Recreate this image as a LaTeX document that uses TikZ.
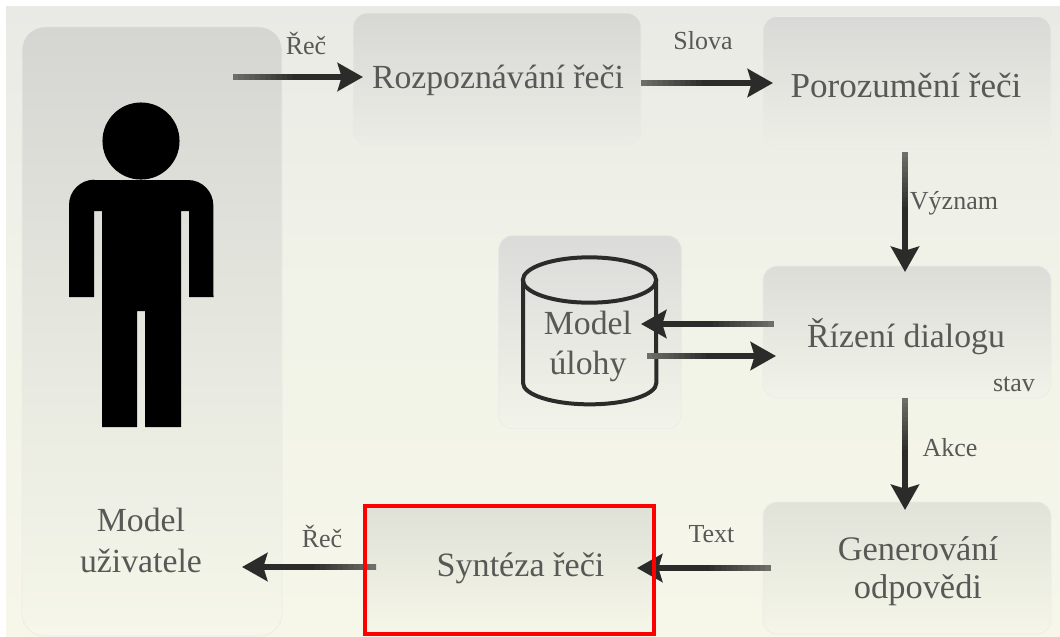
\documentclass[tikz,border=0pt]{standalone}
\usepackage{fontspec}
\setmainfont{Liberation Serif}
\usetikzlibrary{arrows.meta,calc}
\definecolor{txt}{HTML}{585856}
\definecolor{headc}{HTML}{2B2B2A}
\definecolor{tailc}{HTML}{6E6E68}
\definecolor{bgT}{HTML}{E9EAE5}
\definecolor{bgM}{HTML}{F2F3E8}
\definecolor{bgB}{HTML}{F6F7E9}
\definecolor{userT}{HTML}{D5D6D2}
\definecolor{userM}{HTML}{E5E6DF}
\definecolor{userB}{HTML}{F6F7EA}
\definecolor{asrT}{HTML}{D7D8D4}
\definecolor{asrB}{HTML}{EBECE5}
\definecolor{nluT}{HTML}{D9DAD6}
\definecolor{nluB}{HTML}{EDEEE6}
\definecolor{dmT}{HTML}{DCDDD8}
\definecolor{dmB}{HTML}{F1F2E8}
\definecolor{genT}{HTML}{E1E2D8}
\definecolor{genB}{HTML}{F5F6E9}
\definecolor{taskT}{HTML}{DBDCD9}
\definecolor{taskB}{HTML}{F2F3E9}
\definecolor{ttsT}{HTML}{DFE0D6}
\definecolor{ttsB}{HTML}{F6F7E9}
\newcommand{\connector}[2]{%
  \draw[conn] (#1) -- (#2);
  \foreach \i in {0,...,11}{%
    \pgfmathsetmacro{\pa}{\i/24}%
    \pgfmathsetmacro{\pb}{(\i+1.4)/24}%
    \pgfmathtruncatemacro{\mixv}{100-\i*100/11}%
    \draw[line width=4.4pt,color=tailc!\mixv!headc] ($(#1)!\pa!(#2)$) -- ($(#1)!\pb!(#2)$);
  }%
}
\tikzset{
  x=0.75pt,y=-0.75pt,
  box/.style={draw=black!8,line width=0.5pt,rounded corners=10.5pt,minimum width=216pt,minimum height=99pt,inner sep=0pt},
  big/.style={text=txt,font=\fontsize{25.3}{31}\selectfont,align=center,inner sep=0pt},
  lab/.style={text=txt,font=\fontsize{19.5}{22}\selectfont,inner sep=0pt},
  conn/.style={line width=4.4pt,color=headc,-{Stealth[length=19pt,width=21pt,inset=3pt]}},
  dbline/.style={draw=headc,line width=3pt},
}
\begin{document}
\begin{tikzpicture}
\useasboundingbox (0,0) rectangle (1060,636);
\fill[white] (0,0) rectangle (1060,636);
\shade[top color=bgT,bottom color=bgB,middle color=bgM] (6,6) rectangle (1060,636);

% boxes
\node[box,minimum width=195pt,minimum height=457pt,rounded corners=17pt,top color=userT,middle color=userM,bottom color=userB] (user) at (152,331.5) {};
\node[box,top color=asrT,bottom color=asrB] (asr) at (497,79) {};
\node[box,top color=nluT,bottom color=nluB] (nlu) at (907,82.5) {};
\node[box,top color=dmT,bottom color=dmB] (dm) at (907,332) {};
\node[box,top color=genT,bottom color=genB] (gen) at (907,568) {};
\node[box,minimum width=137pt,minimum height=145pt,top color=taskT,bottom color=taskB] (task) at (590,332) {};
\node[draw=none,minimum width=216pt,minimum height=98pt,inner sep=0pt,top color=ttsT,bottom color=ttsB] (tts) at (509.5,570) {};

% box texts
\node[big] (asrtxt) at (498,80) {Rozpoznávání řeči};
\node[big,font=\fontsize{26.3}{31}\selectfont] (nlutxt) at (906,85) {Porozumění řeči};
\node[big] (dmtxt) at (906,337) {Řízení dialogu};
\node[big,font=\fontsize{25.8}{28.5}\selectfont] (gentxt) at (918,571) {Generování\\odpovědi};
\node[big,font=\fontsize{25.6}{31}\selectfont] (ttstxt) at (520.5,568) {Syntéza řeči};

% person
\fill[black] (141,141) circle (28.9pt);
\fill[black] (94,180) -- (188,180) arc[start angle=90,end angle=0,radius=19pt] -- (213.5,297) -- (189,297) -- (189,211) -- (181,211) -- (181,427) -- (145,427) -- (145,311) -- (137,311) -- (137,427) -- (102,427) -- (102,211) -- (94,211) -- (94,297) -- (69,297) -- (69,205) arc[start angle=180,end angle=90,radius=19pt] -- cycle;
\node[big] (usertxt) at (141,540.5) {Model\\uživatele};

% database
\draw[dbline] (523,280) -- (523,383) arc[start angle=180,end angle=360,x radius=50pt,y radius=16pt] -- (656,280);
\draw[dbline] (589.5,280) ellipse [x radius=50pt,y radius=17pt];
\node[big,font=\fontsize{25.3}{30}\selectfont] (tasktxt) at (588,346) {Model\\úlohy};

% connector ends
\coordinate (c1a) at (233,77); \coordinate (c1b) at (363,77);
\coordinate (c2a) at (641,83); \coordinate (c2b) at (773,83);
\coordinate (c3a) at (905,152); \coordinate (c3b) at (905,272);
\coordinate (c4a) at (774,324); \coordinate (c4b) at (641,324);
\coordinate (c5a) at (647,356); \coordinate (c5b) at (776,356);
\coordinate (c6a) at (905,398); \coordinate (c6b) at (905,510);
\coordinate (c7a) at (771,568); \coordinate (c7b) at (637,568);
\coordinate (c8a) at (376,567); \coordinate (c8b) at (242,567);
\connector{c1a}{c1b}
\connector{c2a}{c2b}
\connector{c3a}{c3b}
\connector{c4a}{c4b}
\connector{c5a}{c5b}
\connector{c6a}{c6b}
\connector{c7a}{c7b}
\connector{c8a}{c8b}

% red frame
\draw[red,line width=3pt] (365,506) rectangle (654,634);

% labels
\node[lab] (l1) at (306,43) {Řeč};
\node[lab] (l2) at (703,41) {Slova};
\node[lab] (l3) at (954,203) {Význam};
\node[lab] (l4) at (1014,384) {stav};
\node[lab] (l5) at (950,448) {Akce};
\node[lab] (l6) at (711.5,534) {Text};
\node[lab] (l7) at (322,536) {Řeč};
\end{tikzpicture}
\end{document}
